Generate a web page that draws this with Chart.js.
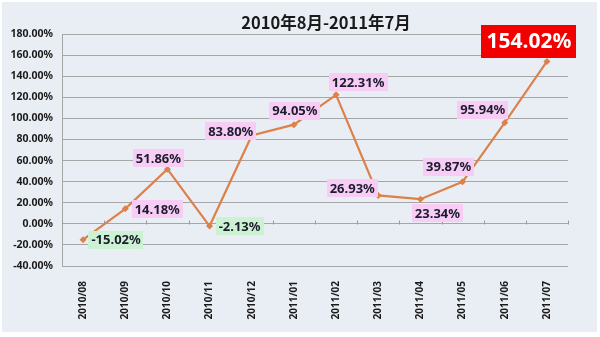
<!DOCTYPE html>
<html>
<head>
<meta charset="utf-8">
<script src="https://cdn.jsdelivr.net/npm/chart.js@4/dist/chart.umd.min.js"></script>
<style>
  html, body { margin: 0; padding: 0; background: #ffffff; }
  #wrap { position: relative; width: 600px; height: 337px; }
  #panel { position: absolute; left: 2px; top: 2px; width: 595px; height: 330px; background: #E9EEF5; }
  #c { position: absolute; left: 0; top: 0; }
</style>
</head>
<body>
<div id="wrap">
  <div id="panel"></div>
  <canvas id="c" width="600" height="337"></canvas>
</div>
<script>
const titleText = '2010年8月-2011年7月';
const categories = ['2010/08','2010/09','2010/10','2010/11','2010/12','2011/01','2011/02','2011/03','2011/04','2011/05','2011/06','2011/07'];
const values = [-15.02, 14.18, 51.86, -2.13, 83.80, 94.05, 122.31, 26.93, 23.34, 39.87, 95.94, 154.02];
const yMin = -40, yMax = 180, yStep = 20;

// label placement relative to each point (style only)
const labelOffsets = [[33,0],[32,0],[-9,-11],[30,0],[-21,-4],[1,-14],[22,-13],[-26,-7],[17,14],[-14,-15],[-22,-13],[-18,-20]];

const FONT = '"Noto Sans", "DejaVu Sans", sans-serif';
const LINE = '#DC8149';

const titlePlugin = {
  id: 'customTitle',
  afterDraw(chart) {
    const ctx = chart.ctx;
    ctx.save();
    ctx.font = 'bold 16.5px "Noto Sans CJK SC", "Noto Sans", sans-serif';
    ctx.fillStyle = '#1a1a1a';
    ctx.textAlign = 'center';
    ctx.textBaseline = 'middle';
    ctx.fillText(titleText, 326, 23);
    ctx.restore();
  }
};

const zeroTicksPlugin = {
  id: 'zeroTicks',
  afterDatasetsDraw(chart) {
    const xs = chart.scales.x, ys = chart.scales.y;
    const y0 = Math.round(ys.getPixelForValue(0)) + 0.5;
    const ctx = chart.ctx;
    ctx.save();
    ctx.strokeStyle = '#9a9a9a';
    ctx.lineWidth = 1;
    ctx.beginPath();
    for (let i = 0; i <= categories.length; i++) {
      let x;
      if (i === 0) x = xs.left;
      else if (i === categories.length) x = xs.right;
      else x = (xs.getPixelForValue(i - 1) + xs.getPixelForValue(i)) / 2;
      x = Math.round(x) + 0.5;
      ctx.moveTo(x, y0);
      ctx.lineTo(x, y0 - 4);
    }
    ctx.stroke();
    ctx.restore();
  }
};

const labelPlugin = {
  id: 'valueLabels',
  afterDatasetsDraw(chart) {
    const meta = chart.getDatasetMeta(0);
    const ctx = chart.ctx;
    const maxIdx = values.indexOf(Math.max(...values));
    ctx.save();
    ctx.textAlign = 'center';
    ctx.textBaseline = 'middle';
    meta.data.forEach((pt, i) => {
      const v = values[i];
      const txt = v.toFixed(2) + '%';
      const cx = pt.x + labelOffsets[i][0];
      const cy = pt.y + labelOffsets[i][1];
      let bg, fg, size, padX, h;
      if (i === maxIdx) { bg = '#F20000'; fg = '#ffffff'; size = 21; padX = 5; h = 33; }
      else if (v < 0) { bg = '#CDF2D3'; fg = '#1c1c2c'; size = 13; padX = 3; h = 18; }
      else { bg = '#F7CDF5'; fg = '#1c1c2c'; size = 13; padX = 3; h = 18; }
      ctx.font = 'bold ' + size + 'px ' + FONT;
      const w = ctx.measureText(txt).width + padX * 2;
      ctx.fillStyle = bg;
      ctx.fillRect(Math.round(cx - w / 2), Math.round(cy - h / 2), Math.round(w), h);
      ctx.fillStyle = fg;
      ctx.fillText(txt, cx, cy + 1);
    });
    ctx.restore();
  }
};

new Chart(document.getElementById('c'), {
  type: 'line',
  data: {
    labels: categories,
    datasets: [{
      data: values,
      borderColor: LINE,
      backgroundColor: LINE,
      borderWidth: 2.2,
      pointStyle: 'rectRot',
      pointRadius: 3.5,
      pointBorderWidth: 0,
      tension: 0,
      fill: false
    }]
  },
  options: {
    responsive: false,
    animation: false,
    devicePixelRatio: 1,
    layout: { padding: { top: 34, right: 32, left: 10, bottom: 11 } },
    plugins: {
      legend: { display: false },
      title: { display: false },
      tooltip: { enabled: false }
    },
    scales: {
      x: {
        offset: true,
        grid: { display: false },
        border: { display: false },
        afterFit(s) { s.height = 60; },
        ticks: {
          minRotation: 90, maxRotation: 90,
          padding: 7,
          color: '#1a1a1a',
          font: { family: FONT, size: 10, weight: 'bold' }
        }
      },
      y: {
        min: yMin, max: yMax,
        afterFit(s) { s.width = 52; },
        grid: { color: '#a6a6a6', drawTicks: false, lineWidth: 1 },
        border: { display: true, color: '#a6a6a6' },
        ticks: {
          stepSize: yStep,
          padding: 9,
          color: '#1a1a1a',
          font: { family: FONT, size: 10.5, weight: 'bold' },
          callback: v => v.toFixed(2) + '%'
        }
      }
    }
  },
  plugins: [titlePlugin, zeroTicksPlugin, labelPlugin]
});
</script>
</body>
</html>
